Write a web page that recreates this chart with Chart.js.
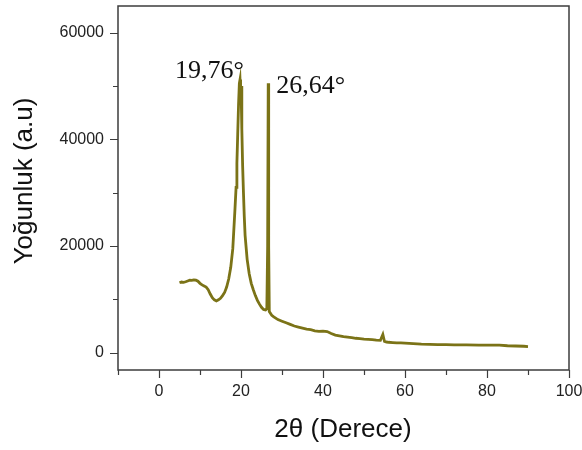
<!DOCTYPE html>
<html>
<head>
<meta charset="utf-8">
<script src="https://cdn.jsdelivr.net/npm/chart.js@4.4.1/dist/chart.umd.min.js"></script>
<style>
  html, body { margin: 0; padding: 0; background: #fff; }
  #wrap { width: 582px; height: 450px; }
</style>
</head>
<body>
<div id="wrap"><canvas id="xrdChart" width="582" height="450"></canvas></div>
<script>
// 2θ (derece) ve yoğunluk değerleri
const aci = [
  5.0, 5.5, 6.0, 6.5, 7.0, 7.5, 8.0, 8.5, 9.0, 9.5,
  10.0, 10.5, 11.0, 11.5, 12.0, 12.5, 13.0, 13.5, 14.0, 14.5,
  15.0, 15.5, 16.0, 16.5, 17.0, 17.5, 18.0, 18.5, 18.8, 19.0,
  19.2, 19.4, 19.6, 19.76, 19.9, 20.0, 20.2, 20.4, 20.6, 20.8,
  21.0, 21.5, 22.0, 22.5, 23.0, 23.5, 24.0, 24.5, 25.0, 25.5,
  26.0, 26.3, 26.5, 26.64, 26.75, 26.9, 27.5, 28, 29, 30,
  31, 32, 33, 34, 35, 36, 37, 38, 39, 40,
  41, 42, 43, 44, 45, 46, 47, 48, 49, 50,
  51, 52, 53, 54, 54.6, 55, 55.5, 56, 57, 58,
  59, 60, 62, 64, 66, 68, 70, 72, 75, 78,
  80, 83, 85, 87, 89, 90
];
const yogunluk = [
  13100, 13250, 13200, 13300, 13450, 13600, 13550, 13650, 13600, 13400,
  13000, 12700, 12500, 12300, 11800, 11000, 10300, 9900, 9700, 9900,
  10200, 10700, 11300, 12300, 13800, 16000, 19500, 26500, 31000, 35500,
  41000, 46500, 50500, 51200, 48500, 50000, 42000, 35000, 30000, 25500,
  22000, 17500, 14800, 13000, 11800, 10700, 9800, 9100, 8500, 8100,
  8000, 8200, 20000, 50500, 20000, 7700, 7000, 6700, 6200, 5900,
  5600, 5300, 5000, 4800, 4600, 4400, 4300, 4100, 4000, 4050,
  3950, 3600, 3300, 3150, 3000, 2900, 2800, 2700, 2650, 2550,
  2500, 2450, 2350, 2300, 3400, 2100, 2000, 1950, 1900, 1850,
  1850, 1800, 1700, 1600, 1550, 1500, 1500, 1450, 1450, 1400,
  1400, 1400, 1300, 1250, 1200, 1150
];

// Eksen çentikleri ve etiketleri
const xCentikler = [-10, 0, 10, 20, 30, 40, 50, 60, 70, 80, 90, 100];
const xEtiketler = [0, 20, 40, 60, 80, 100];
const yCentikler = [0, 10000, 20000, 30000, 40000, 50000, 60000];
const yEtiketler = [0, 20000, 40000, 60000];

// Tepe noktası yazıları
const tepeAci = [19.76, 26.64];
const tepeYogunluk = [51200, 50500];
const tepeYazi = ['19,76°', '26,64°'];

const cizgiRengi = '#7b7317';

// Çerçeve, çentikler, eksen başlıkları ve tepe yazıları
const cerceveEklentisi = {
  id: 'cerceve',
  afterDraw(chart) {
    const ctx = chart.ctx;
    const a = chart.chartArea;
    const xs = chart.scales.x;
    const ys = chart.scales.y;
    ctx.save();
    ctx.strokeStyle = '#3c3c3c';
    ctx.lineWidth = 1.5;
    ctx.strokeRect(a.left, a.top, a.right - a.left, a.bottom - a.top);

    ctx.lineWidth = 1.2;
    ctx.beginPath();
    xCentikler.forEach(v => {
      const px = Math.round(xs.getPixelForValue(v)) + 0.5;
      const len = xEtiketler.includes(v) ? 8 : 5;
      ctx.moveTo(px, a.bottom);
      ctx.lineTo(px, a.bottom + len);
    });
    yCentikler.forEach(v => {
      const py = Math.round(ys.getPixelForValue(v)) + 0.5;
      const len = yEtiketler.includes(v) ? 8 : 5;
      ctx.moveTo(a.left, py);
      ctx.lineTo(a.left - len, py);
    });
    ctx.stroke();

    // eksen başlıkları
    ctx.fillStyle = '#111';
    ctx.font = '26px "Liberation Sans", Arial, sans-serif';
    ctx.textAlign = 'center';
    ctx.textBaseline = 'alphabetic';
    ctx.fillText('2θ (Derece)', 343, 437);
    ctx.save();
    ctx.translate(32, 181);
    ctx.rotate(-Math.PI / 2);
    ctx.fillText('Yoğunluk (a.u)', 0, 0);
    ctx.restore();

    // tepe yazıları
    ctx.font = '26px "Liberation Serif", "Times New Roman", serif';
    tepeAci.forEach((t, i) => {
      const px = xs.getPixelForValue(t);
      const py = ys.getPixelForValue(tepeYogunluk[i]);
      if (i === 0) {
        ctx.textAlign = 'right';
        ctx.fillText(tepeYazi[i], px + 4, py - 2);
      } else {
        ctx.textAlign = 'left';
        ctx.fillText(tepeYazi[i], px + 8, py + 10);
      }
    });
    ctx.restore();
  }
};

function grafigiCiz() {
  const ctx = document.getElementById('xrdChart').getContext('2d');
  const noktalar = aci.map((x, i) => ({ x: x, y: yogunluk[i] }));

  new Chart(ctx, {
    type: 'line',
    data: {
      datasets: [{
        data: noktalar,
        borderColor: cizgiRengi,
        borderWidth: 2.8,
        pointRadius: 0,
        tension: 0,
        fill: false
      }]
    },
    options: {
      responsive: false,
      animation: false,
      layout: { padding: { top: 6, right: 13, left: 0, bottom: 0 } },
      plugins: {
        legend: { display: false },
        tooltip: { enabled: false }
      },
      scales: {
        x: {
          type: 'linear',
          min: -10,
          max: 100,
          afterBuildTicks: s => { s.ticks = xCentikler.map(v => ({ value: v })); },
          afterFit: s => { s.height = 80; s.paddingLeft = 0; s.paddingRight = 0; },
          border: { display: false },
          grid: { drawOnChartArea: false, drawTicks: true, tickLength: 8, color: 'rgba(0,0,0,0)' },
          ticks: {
            padding: 4,
            maxRotation: 0,
            autoSkip: false,
            color: '#222',
            font: { family: '"Liberation Sans", Arial, sans-serif', size: 16 },
            callback: v => xEtiketler.includes(v) ? String(v) : ''
          }
        },
        y: {
          min: -3250,
          max: 65000,
          afterBuildTicks: s => { s.ticks = yCentikler.map(v => ({ value: v })); },
          afterFit: s => { s.width = 118; s.paddingTop = 0; s.paddingBottom = 0; },
          border: { display: false },
          grid: { drawOnChartArea: false, drawTicks: true, tickLength: 8, color: 'rgba(0,0,0,0)' },
          ticks: {
            padding: 6,
            autoSkip: false,
            color: '#222',
            font: { family: '"Liberation Sans", Arial, sans-serif', size: 16 },
            callback: v => yEtiketler.includes(v) ? String(v) : ''
          }
        }
      }
    },
    plugins: [cerceveEklentisi]
  });
}

window.onload = grafigiCiz;
</script>
</body>
</html>
